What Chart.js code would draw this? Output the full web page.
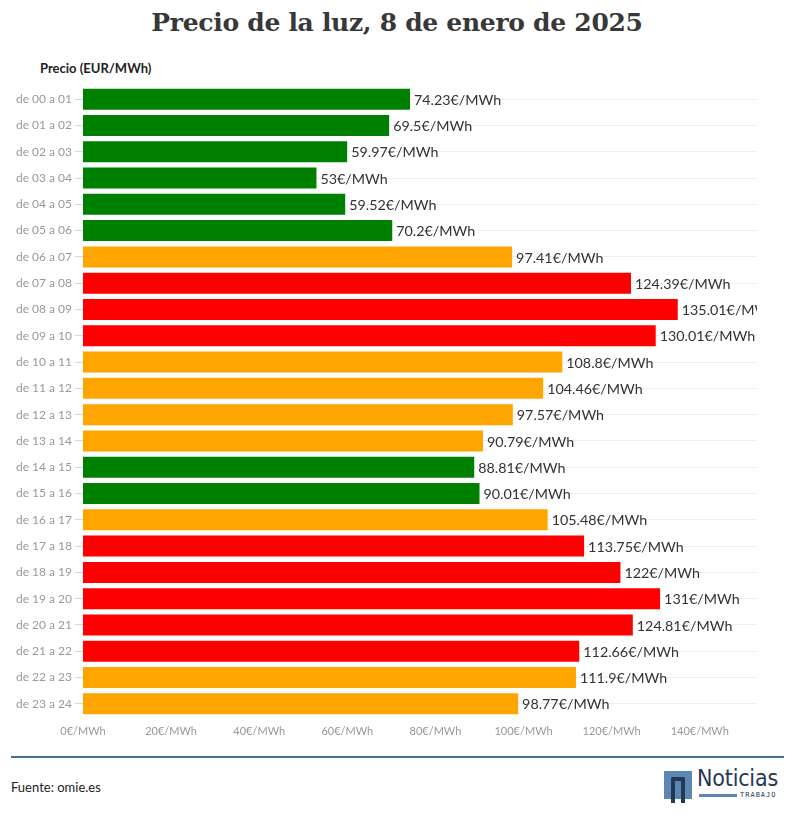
<!DOCTYPE html>
<html>
<head>
<meta charset="utf-8">
<script src="https://cdn.jsdelivr.net/npm/chart.js@4/dist/chart.umd.min.js"></script>
<style>
  html, body { margin: 0; padding: 0; background: #fff; }
  body { width: 794px; height: 817px; position: relative; overflow: hidden; font-family: Lato, "Open Sans", sans-serif; }
  #title { position: absolute; left: 0; top: 8px; width: 794px; text-align: center; font-family: "DejaVu Serif", serif; font-weight: bold; font-size: 25px; color: #383838; letter-spacing: -0.3px; }
  #ylabel { position: absolute; left: 40px; top: 60px; font-size: 13px; font-weight: bold; color: #222; }
  #wrap { position: absolute; left: 0; top: 0; width: 794px; height: 750px; }
  #rule { position: absolute; left: 11px; top: 756px; width: 773px; height: 2px; background: #4a6f94; }
  #src { position: absolute; left: 11px; top: 779px; font-size: 13px; color: #222; }
  #logo { position: absolute; left: 664px; top: 771px; width: 122px; height: 30px; }
  #logo .sq { position: absolute; left: 0; top: 0; width: 28px; height: 28px; background: #5b87b5; }
  #logo .n { position: absolute; left: 7px; top: 6px; height: 22px; border: 4px solid #263752; border-bottom: none; border-radius: 2px 2px 0 0; box-sizing: content-box; width: 6px; }
  #logo .txt { position: absolute; left: 33px; top: -6px; font-family: "DejaVu Sans Condensed", "DejaVu Sans", sans-serif; font-size: 23px; color: #263752; letter-spacing: -0.2px; }
  #logo .bar { position: absolute; left: 35px; top: 23px; width: 38px; height: 3px; background: #5b87b5; }
  #logo .tr { position: absolute; left: 76px; top: 20px; font-size: 7px; color: #263752; letter-spacing: 1px; font-family: "DejaVu Sans Mono", monospace; }
</style>
</head>
<body>
<div id="title">Precio de la luz, 8 de enero de 2025</div>
<div id="ylabel">Precio (EUR/MWh)</div>
<div id="wrap"><canvas id="c"></canvas></div>
<div id="rule"></div>
<div id="src">Fuente: omie.es</div>
<div id="logo"><div class="sq"></div><div class="n"></div><div class="txt">Noticias</div><div class="bar"></div><div class="tr">TRABAJO</div></div>
<script>
const hours = ["de 00 a 01","de 01 a 02","de 02 a 03","de 03 a 04","de 04 a 05","de 05 a 06","de 06 a 07","de 07 a 08","de 08 a 09","de 09 a 10","de 10 a 11","de 11 a 12","de 12 a 13","de 13 a 14","de 14 a 15","de 15 a 16","de 16 a 17","de 17 a 18","de 18 a 19","de 19 a 20","de 20 a 21","de 21 a 22","de 22 a 23","de 23 a 24"];
const prices = [74.23, 69.5, 59.97, 53, 59.52, 70.2, 97.41, 124.39, 135.01, 130.01, 108.8, 104.46, 97.57, 90.79, 88.81, 90.01, 105.48, 113.75, 122, 131, 124.81, 112.66, 111.9, 98.77];
const levels = ["bajo","bajo","bajo","bajo","bajo","bajo","medio","alto","alto","alto","medio","medio","medio","medio","bajo","bajo","medio","alto","alto","alto","alto","alto","medio","medio"];
const xTicks = [0, 20, 40, 60, 80, 100, 120, 140];
const unit = "€/MWh";

const levelColors = { bajo: "#008000", medio: "#FFA500", alto: "#FF0000" };

const valueLabels = {
  id: "valueLabels",
  afterDatasetsDraw(chart) {
    const ctx = chart.ctx;
    const area = chart.chartArea;
    const meta = chart.getDatasetMeta(0);
    ctx.save();
    ctx.beginPath();
    ctx.rect(area.left, area.top - 20, area.right - area.left, area.bottom - area.top + 40);
    ctx.clip();
    ctx.font = "14.3px Lato";
    ctx.fillStyle = "#333";
    ctx.textBaseline = "middle";
    ctx.textAlign = "left";
    meta.data.forEach((bar, i) => {
      ctx.fillText(String(prices[i]) + unit, bar.x + 4, bar.y + 1);
    });
    ctx.restore();
  }
};

new Chart(document.getElementById("c"), {
  type: "bar",
  data: {
    labels: hours,
    datasets: [{
      data: prices,
      backgroundColor: levels.map(l => levelColors[l]),
      borderWidth: 0,
      barPercentage: 0.8,
      categoryPercentage: 1.0
    }]
  },
  options: {
    indexAxis: "y",
    responsive: true,
    maintainAspectRatio: false,
    animation: false,
    layout: { padding: { top: 86, right: 37, bottom: 0, left: 0 } },
    plugins: { legend: { display: false }, tooltip: { enabled: false } },
    scales: {
      x: {
        min: 0,
        max: 153,
        afterFit(s) { s.height = 33; },
        afterBuildTicks(s) { s.ticks = xTicks.map(v => ({ value: v })); },
        grid: { display: false, drawTicks: false },
        border: { display: false },
        ticks: {
          color: "#999",
          font: { family: "Lato", size: 11 },
          padding: 8,
          maxRotation: 0,
          autoSkip: false,
          callback: v => v + unit
        }
      },
      y: {
        afterFit(s) { s.width = 83; },
        grid: { offset: false, color: "#eeeeee", lineWidth: 1, tickLength: 8, tickColor: "#d8d8d8" },
        border: { display: false },
        ticks: {
          color: "#999",
          font: { family: "Lato", size: 12 },
          padding: 3,
          autoSkip: false
        }
      }
    }
  },
  plugins: [valueLabels]
});
</script>
</body>
</html>
